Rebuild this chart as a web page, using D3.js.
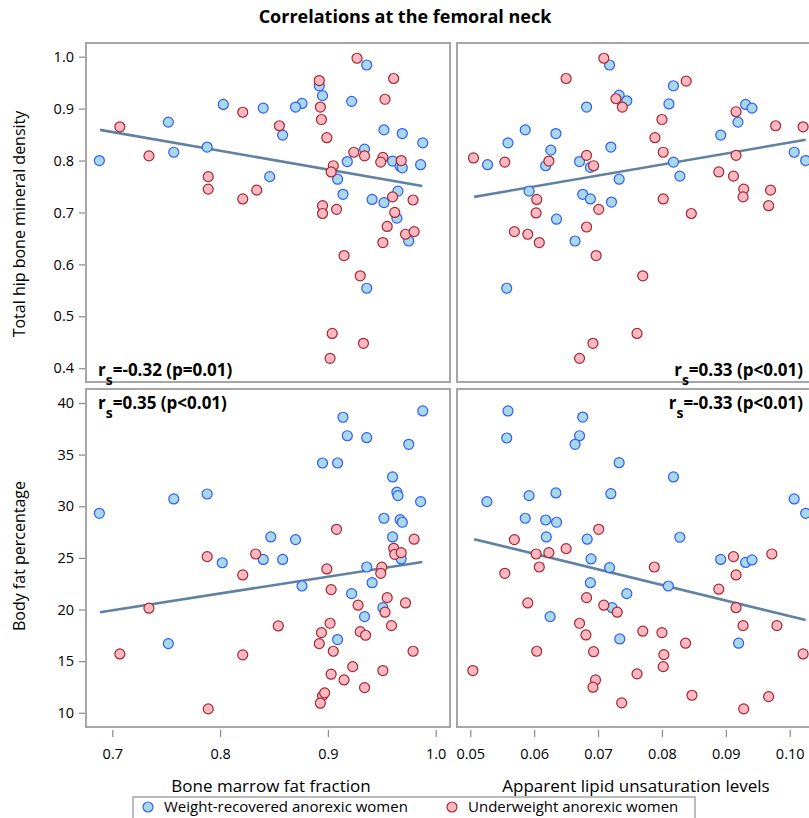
<!DOCTYPE html>
<html><head><meta charset="utf-8">
<script src="https://cdn.jsdelivr.net/npm/d3@7"></script>
<style>body{margin:0;background:#fff}svg{display:block}text{font-family:"Open Sans","Noto Sans",sans-serif}</style>
</head><body><svg id="c" width="809" height="818"></svg>
<script>
// ---------- DATA ----------
const title = "Correlations at the femoral neck";
const groupNames = ["Weight-recovered anorexic women", "Underweight anorexic women"];
const xTitles = ["Bone marrow fat fraction", "Apparent lipid unsaturation levels"];
const yTitles = ["Total hip bone mineral density", "Body fat percentage"];
const xTicksLeft = [0.7, 0.8, 0.9, 1.0];
const xTicksRight = [0.05, 0.06, 0.07, 0.08, 0.09, 0.10];
const yTicksTop = [0.4, 0.5, 0.6, 0.7, 0.8, 0.9, 1.0];
const yTicksBottom = [10, 15, 20, 25, 30, 35, 40];
const corrText = [["-0.32", "(p=0.01)"], ["0.33", "(p<0.01)"], ["0.35", "(p<0.01)"], ["-0.33", "(p<0.01)"]];

// Top-left: bone marrow fat fraction vs total hip BMD
const recoveredFFvsBMD = [[0.688,0.800],[0.752,0.874],[0.757,0.816],[0.788,0.826],[0.803,0.908],[0.840,0.901],[0.846,0.769],[0.936,0.984],[0.892,0.944],[0.895,0.925],[0.922,0.914],[0.876,0.910],[0.870,0.903],[0.858,0.849],[0.952,0.859],[0.969,0.852],[0.988,0.834],[0.934,0.822],[0.960,0.799],[0.967,0.789],[0.969,0.786],[0.986,0.792],[0.918,0.798],[0.909,0.764],[0.914,0.735],[0.965,0.741],[0.941,0.725],[0.952,0.719],[0.964,0.689],[0.975,0.645],[0.936,0.554]];
const underweightFFvsBMD = [[0.707,0.865],[0.734,0.809],[0.789,0.769],[0.789,0.745],[0.821,0.726],[0.834,0.743],[0.821,0.893],[0.927,0.997],[0.961,0.958],[0.892,0.954],[0.893,0.903],[0.894,0.879],[0.953,0.918],[0.855,0.867],[0.899,0.844],[0.924,0.816],[0.934,0.809],[0.951,0.806],[0.949,0.797],[0.968,0.800],[0.905,0.790],[0.903,0.778],[0.960,0.730],[0.979,0.724],[0.895,0.713],[0.895,0.698],[0.908,0.706],[0.962,0.700],[0.955,0.673],[0.972,0.658],[0.980,0.663],[0.951,0.642],[0.915,0.617],[0.930,0.578],[0.904,0.467],[0.933,0.448],[0.902,0.419]];

// Top-right: lipid unsaturation vs total hip BMD
const recoveredULvsBMD = [[0.0718,0.984],[0.0733,0.926],[0.0745,0.915],[0.0682,0.903],[0.0586,0.859],[0.0634,0.852],[0.0559,0.834],[0.0626,0.820],[0.0720,0.826],[0.0527,0.792],[0.0618,0.790],[0.0671,0.798],[0.0688,0.787],[0.0733,0.764],[0.0592,0.741],[0.0676,0.735],[0.0688,0.726],[0.0721,0.720],[0.0635,0.687],[0.0818,0.944],[0.0811,0.909],[0.0818,0.797],[0.0828,0.770],[0.0892,0.849],[0.0931,0.908],[0.0941,0.901],[0.0919,0.874],[0.1007,0.816],[0.1025,0.800],[0.0664,0.645],[0.0557,0.554]];
const underweightULvsBMD = [[0.0709,0.997],[0.0650,0.958],[0.0728,0.919],[0.0738,0.903],[0.0505,0.805],[0.0554,0.797],[0.0623,0.799],[0.0682,0.810],[0.0693,0.790],[0.0604,0.725],[0.0603,0.699],[0.0701,0.706],[0.0838,0.953],[0.0800,0.879],[0.0789,0.844],[0.0802,0.816],[0.0916,0.894],[0.0978,0.867],[0.1021,0.865],[0.0916,0.810],[0.0889,0.778],[0.0912,0.770],[0.0928,0.745],[0.0927,0.730],[0.0970,0.743],[0.0967,0.713],[0.0802,0.726],[0.0846,0.698],[0.0569,0.663],[0.0590,0.658],[0.0608,0.642],[0.0682,0.672],[0.0697,0.617],[0.0770,0.578],[0.0761,0.467],[0.0692,0.448],[0.0671,0.419]];

// Bottom-left: bone marrow fat fraction vs body fat %
const recoveredFFvsBF = [[0.688,29.32],[0.757,30.71],[0.788,31.19],[0.847,27.03],[0.802,24.53],[0.840,24.85],[0.914,38.62],[0.988,39.23],[0.918,36.83],[0.936,36.64],[0.975,36.0],[0.895,34.19],[0.909,34.19],[0.960,32.84],[0.964,31.36],[0.965,31.03],[0.986,30.45],[0.952,28.84],[0.967,28.70],[0.969,28.45],[0.960,27.03],[0.870,26.77],[0.968,24.90],[0.858,24.85],[0.936,24.12],[0.876,22.28],[0.941,22.60],[0.922,21.54],[0.951,20.18],[0.934,19.31],[0.752,16.70],[0.909,17.09]];
const underweightFFvsBF = [[0.788,25.12],[0.833,25.38],[0.908,27.77],[0.980,26.81],[0.961,25.93],[0.962,25.35],[0.968,25.51],[0.821,23.35],[0.899,23.93],[0.950,24.10],[0.949,23.51],[0.903,21.93],[0.928,20.42],[0.955,21.15],[0.972,20.64],[0.953,19.74],[0.734,20.13],[0.902,18.67],[0.854,18.41],[0.959,18.44],[0.894,17.76],[0.930,17.86],[0.935,17.51],[0.892,16.70],[0.707,15.70],[0.821,15.61],[0.905,15.96],[0.979,15.96],[0.923,14.47],[0.951,14.09],[0.903,13.74],[0.915,13.18],[0.934,12.44],[0.895,11.64],[0.893,10.93],[0.789,10.38],[0.897,11.93]];

// Bottom-right: lipid unsaturation vs body fat %
const recoveredULvsBF = [[0.0559,39.23],[0.0676,38.64],[0.0557,36.61],[0.0671,36.83],[0.0664,36.0],[0.0733,34.22],[0.0592,31.03],[0.0634,31.29],[0.0720,31.22],[0.0526,30.45],[0.0586,28.84],[0.0618,28.67],[0.0635,28.45],[0.0619,27.03],[0.0683,26.81],[0.0689,24.90],[0.0718,24.06],[0.0818,32.84],[0.1007,30.71],[0.1025,29.32],[0.0828,27.0],[0.0892,24.85],[0.0931,24.56],[0.0941,24.80],[0.0688,22.60],[0.0745,21.54],[0.0810,22.28],[0.0722,20.18],[0.0625,19.31],[0.0734,17.15],[0.0920,16.74]];
const underweightULvsBF = [[0.0701,27.77],[0.0569,26.77],[0.0603,25.38],[0.0623,25.51],[0.0650,25.90],[0.0608,24.12],[0.0912,25.12],[0.0972,25.38],[0.0788,24.12],[0.0554,23.51],[0.0916,23.35],[0.0889,21.97],[0.0590,20.64],[0.0682,21.15],[0.0709,20.42],[0.0730,19.74],[0.0916,20.18],[0.0671,18.67],[0.0770,17.90],[0.0800,17.76],[0.0927,18.44],[0.0980,18.44],[0.0681,17.54],[0.0837,16.74],[0.0604,15.96],[0.0693,15.92],[0.0803,15.63],[0.1021,15.70],[0.0802,14.47],[0.0504,14.09],[0.0761,13.77],[0.0696,13.18],[0.0692,12.48],[0.0847,11.70],[0.0967,11.57],[0.0737,10.96],[0.0928,10.38]];

// Fit lines: [x0, y0, x1, y1]
const fitFFvsBMD = [0.6886, 0.859, 0.9876, 0.751];
const fitULvsBMD = [0.0506, 0.730, 0.1025, 0.840];
const fitFFvsBF = [0.6886, 19.74, 0.9876, 24.61];
const fitULvsBF = [0.0506, 26.81, 0.1025, 18.99];

// ---------- DRAWING ----------
const svg = d3.select("#c");
const C = {frame:"#a6a6a6", blueFill:"#a9d8e6", blueStroke:"#2f5cff", redFill:"#ffb8c2", redStroke:"#a3282f", fit:"#6080a4", text:"#000"};

const cols = [{x0:86, x1:450}, {x0:457, x1:822}];
const rows = [{y0:43, y1:382}, {y0:389, y1:727}];

const xLeft = d3.scaleLinear().domain([0.7, 1.0]).range([112.3, 435.7]);
const xRight = d3.scaleLinear().domain([0.05, 0.10]).range([470.3, 789.7]);
const yTop = d3.scaleLinear().domain([0.4, 1.0]).range([368.2, 56.7]);
const yBot = d3.scaleLinear().domain([10, 40]).range([712.8, 403]);

svg.append("text").attr("x", 405).attr("y", 23).attr("text-anchor","middle")
  .attr("font-size", 18).attr("font-weight","bold").text(title);

const panels = [
  {c:0,r:0,x:xLeft,y:yTop,blue:recoveredFFvsBMD,red:underweightFFvsBMD,fit:fitFFvsBMD,corr:corrText[0],pos:"bl"},
  {c:1,r:0,x:xRight,y:yTop,blue:recoveredULvsBMD,red:underweightULvsBMD,fit:fitULvsBMD,corr:corrText[1],pos:"br"},
  {c:0,r:1,x:xLeft,y:yBot,blue:recoveredFFvsBF,red:underweightFFvsBF,fit:fitFFvsBF,corr:corrText[2],pos:"tl"},
  {c:1,r:1,x:xRight,y:yBot,blue:recoveredULvsBF,red:underweightULvsBF,fit:fitULvsBF,corr:corrText[3],pos:"tr"}
];

const defs = svg.append("defs");
panels.forEach((p,i)=>{
  const cx = cols[p.c], ry = rows[p.r];
  defs.append("clipPath").attr("id","clip"+i).append("rect")
    .attr("x",cx.x0).attr("y",ry.y0).attr("width",cx.x1-cx.x0).attr("height",ry.y1-ry.y0);
  const g = svg.append("g").attr("clip-path","url(#clip"+i+")");
  g.append("line").attr("x1",p.x(p.fit[0])).attr("y1",p.y(p.fit[1]))
    .attr("x2",p.x(p.fit[2])).attr("y2",p.y(p.fit[3]))
    .attr("stroke",C.fit).attr("stroke-width",2.6);
  g.selectAll(".b").data(p.blue).join("circle")
    .attr("cx",d=>p.x(d[0])).attr("cy",d=>p.y(d[1])).attr("r",5)
    .attr("fill",C.blueFill).attr("stroke",C.blueStroke).attr("stroke-width",1.2);
  g.selectAll(".r").data(p.red).join("circle")
    .attr("cx",d=>p.x(d[0])).attr("cy",d=>p.y(d[1])).attr("r",5)
    .attr("fill",C.redFill).attr("stroke",C.redStroke).attr("stroke-width",1.2);
  svg.append("rect").attr("x",cx.x0).attr("y",ry.y0).attr("width",cx.x1-cx.x0).attr("height",ry.y1-ry.y0)
    .attr("fill","none").attr("stroke",C.frame).attr("stroke-width",2);
  let tx, ty, anchor;
  if (p.pos==="bl"){tx=cx.x0+12; ty=ry.y1-6; anchor="start";}
  if (p.pos==="br"){tx=803; ty=ry.y1-6; anchor="end";}
  if (p.pos==="tl"){tx=cx.x0+12; ty=ry.y0+20; anchor="start";}
  if (p.pos==="tr"){tx=803; ty=ry.y0+20; anchor="end";}
  const t = svg.append("text").attr("x",tx).attr("y",ty).attr("text-anchor",anchor)
    .attr("font-size",17).attr("font-weight","bold");
  t.append("tspan").text("r");
  t.append("tspan").attr("dy",9).attr("font-size",14).text("s");
  t.append("tspan").attr("dy",-9).text("=" + p.corr[0] + " " + p.corr[1]);
});

function styleAxis(g){
  g.select(".domain").remove();
  g.selectAll(".tick line").attr("stroke","#8a8a8a").attr("stroke-width",1.2);
  g.selectAll(".tick text").attr("font-size",14.5).attr("fill","#000")
   .attr("font-family",'"Open Sans","Noto Sans",sans-serif');
}
svg.append("g").attr("transform","translate(85,0)")
  .call(d3.axisLeft(yTop).tickValues(yTicksTop).tickFormat(d3.format(".1f")).tickSize(6).tickPadding(5)).call(styleAxis);
svg.append("g").attr("transform","translate(85,0)")
  .call(d3.axisLeft(yBot).tickValues(yTicksBottom).tickFormat(d3.format("d")).tickSize(6).tickPadding(5)).call(styleAxis);
svg.append("g").attr("transform","translate(0,730)")
  .call(d3.axisBottom(xLeft).tickValues(xTicksLeft).tickFormat(d3.format(".1f")).tickSize(7).tickPadding(12)).call(styleAxis);
svg.append("g").attr("transform","translate(0,730)")
  .call(d3.axisBottom(xRight).tickValues(xTicksRight).tickFormat(d3.format(".2f")).tickSize(7).tickPadding(12)).call(styleAxis);

svg.append("text").attr("x",271).attr("y",792).attr("text-anchor","middle").attr("font-size",17).text(xTitles[0]);
svg.append("text").attr("x",636).attr("y",792).attr("text-anchor","middle").attr("font-size",17).text(xTitles[1]);
svg.append("text").attr("transform",`translate(25,224) rotate(-90)`).attr("text-anchor","middle").attr("font-size",16).text(yTitles[0]);
svg.append("text").attr("transform",`translate(25,556) rotate(-90)`).attr("text-anchor","middle").attr("font-size",16).text(yTitles[1]);

svg.append("rect").attr("x",133).attr("y",797).attr("width",562).attr("height",30)
  .attr("fill","none").attr("stroke",C.frame).attr("stroke-width",1.5);
const leg = [{x:148, fill:C.blueFill, stroke:C.blueStroke, name:groupNames[0]},
             {x:452, fill:C.redFill, stroke:C.redStroke, name:groupNames[1]}];
leg.forEach(l=>{
  svg.append("circle").attr("cx",l.x).attr("cy",807).attr("r",5).attr("fill",l.fill).attr("stroke",l.stroke).attr("stroke-width",1.2);
  svg.append("text").attr("x",l.x+16).attr("y",812).attr("font-size",15).text(l.name);
});
</script></body></html>
